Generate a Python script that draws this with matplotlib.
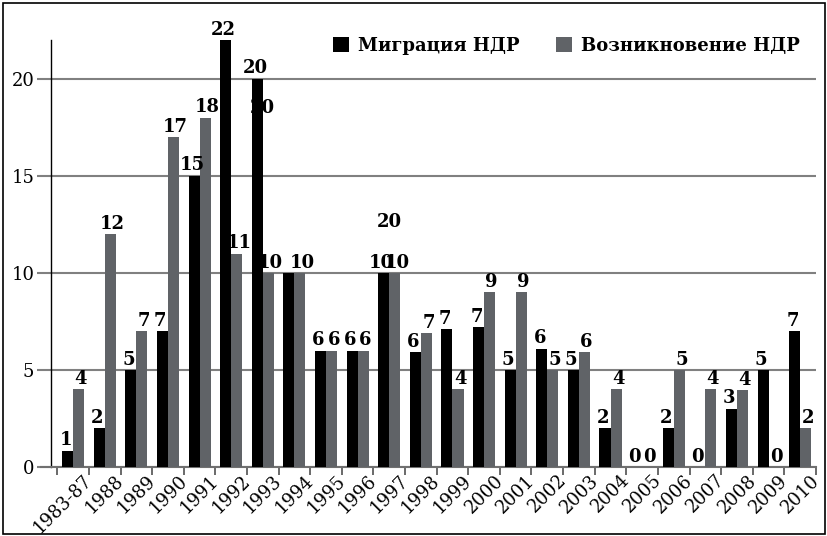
import matplotlib
matplotlib.use("Agg")
import matplotlib.pyplot as plt
import matplotlib.transforms as mtransforms
from matplotlib.patches import Rectangle
import numpy as np

categories = ["1983-87", "1988", "1989", "1990", "1991", "1992", "1993", "1994",
              "1995", "1996", "1997", "1998", "1999", "2000", "2001", "2002",
              "2003", "2004", "2005", "2006", "2007", "2008", "2009", "2010"]
migration = [0.85, 2, 5, 7, 15, 22, 20, 10, 6, 6, 10, 5.9, 7.1, 7.2, 5, 6.1,
             5, 2, 0, 2, 0, 3, 5, 7]
emergence = [4, 12, 7, 17, 18, 11, 10, 10, 6, 6, 10, 6.9, 4, 9, 9, 5,
             5.9, 4, 0, 5, 4, 3.95, 0, 2]
migration_labels = ["1", "2", "5", "7", "15", "22", "20", "", "6", "6", "10", "6",
                    "7", "7", "5", "6", "5", "2", "0", "2", "0", "3", "5", "7"]
emergence_labels = ["4", "12", "7", "17", "18", "11", "10", "10", "6", "6", "10", "7",
                    "4", "9", "9", "5", "6", "4", "0", "5", "4", "4", "0", "2"]
# stray labels present in the source picture
stray_labels = [("1993", 18.5, "20"), ("1997", 12.6, "20")]

series_names = ["Миграция НДР", "Возникновение НДР"]
c_black = "#000000"
c_gray = "#606367"

plt.rcParams["font.family"] = ["DejaVu Serif", "DejaVu Sans"]

fig = plt.figure(figsize=(8.27, 5.36), dpi=100)
ax = fig.add_axes([51/827, 1-467/536, (816-51)/827, (467-40)/536])

x = np.arange(len(categories))
w = 0.35
ax.bar(x - w/2, migration, w, color=c_black, zorder=3, label=series_names[0])
ax.bar(x + w/2, emergence, w, color=c_gray, zorder=3, label=series_names[1])

for xi, h, lab in zip(x - w/2, migration, migration_labels):
    if lab:
        ax.annotate(lab, (xi, h), xytext=(-1.5, 1), textcoords="offset points",
                    ha="center", va="bottom", fontsize=13, fontweight="bold", zorder=5)
for xi, h, lab in zip(x + w/2, emergence, emergence_labels):
    if lab:
        ax.annotate(lab, (xi, h), xytext=(1.5, 1), textcoords="offset points",
                    ha="center", va="bottom", fontsize=13, fontweight="bold", zorder=5)
for cat, yv, lab in stray_labels:
    i = categories.index(cat)
    ax.text(i, yv, lab, ha="center", va="center", fontsize=13, fontweight="bold", zorder=1)

ax.set_xlim(-0.7, len(categories) - 0.5)
ax.set_ylim(0, 22)
ax.set_yticks([0, 5, 10, 15, 20])
ax.yaxis.grid(True, color="#808080", linewidth=1.5, zorder=0)
ax.set_axisbelow(True)
ax.tick_params(axis="y", length=10, color="#808080", width=1.5, labelsize=13, pad=2)

ax.set_xticks(np.arange(len(categories) + 1) - 0.5, minor=False)
ax.set_xticklabels([])
ax.tick_params(axis="x", length=6, color="#505050", width=1.2)
ax.set_xticks(x, minor=True)
ax.set_xticklabels(categories, minor=True)
ax.tick_params(axis="x", which="minor", length=0, labelsize=13, pad=3)
offset = mtransforms.ScaledTranslation(10/100, 0, fig.dpi_scale_trans)
for lbl in ax.get_xticklabels(minor=True):
    lbl.set_rotation(45)
    lbl.set_ha("right")
    lbl.set_va("top")
    lbl.set_rotation_mode("anchor")
    lbl.set_transform(lbl.get_transform() + offset)

for s in ["top", "right"]:
    ax.spines[s].set_visible(False)
ax.spines["left"].set_color("black")
ax.spines["left"].set_linewidth(1.0)
ax.spines["bottom"].set_color("#707070")
ax.spines["bottom"].set_linewidth(1.5)
ax.spines["bottom"].set_bounds(-0.7 - 10/31.6, len(categories) - 0.5)
ax.spines["bottom"].set_clip_on(False)

ax.legend(loc="upper right", bbox_to_anchor=(1.0, 1.045), ncol=2, frameon=False,
          handlelength=0.9, handleheight=0.9, handletextpad=0.5, columnspacing=2.0,
          prop={"size": 13, "weight": "bold"})

fig.patches.append(Rectangle((0.004, 0.004), 0.993, 0.990, transform=fig.transFigure,
                             fill=False, edgecolor="black", linewidth=1.2))

fig.savefig("out.png", dpi=100)
